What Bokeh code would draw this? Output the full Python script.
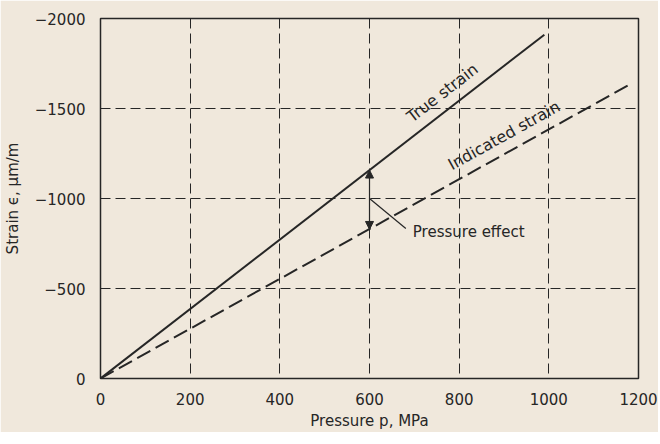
import math
from bokeh.plotting import figure
from bokeh.models import Range1d, FixedTicker, Label, Arrow, NormalHead
from bokeh.embed import file_html
from bokeh.resources import INLINE

# ---- data ----
pressure_true = [0, 990]          # MPa
strain_true = [0, -1910]          # micro-strain
pressure_indicated = [0, 1185]
strain_indicated = [0, -1640]
effect_pressure = [600, 600]
effect_strain = [-828, -1158]
leader_pressure = [600, 681]
leader_strain = [-1000, -833]

x_ticks = [0, 200, 400, 600, 800, 1000, 1200]
x_tick_labels = ["0", "200", "400", "600", "800", "1000", "1200"]
y_ticks = [0, -500, -1000, -1500, -2000]
y_tick_labels = ["0", "\u2212500", "\u22121000", "\u22121500", "\u22122000"]

# ---- style ----
BG = "#f0e8dc"
INK = "#262626"
FONT = "DejaVu Sans"

FW, FH = 538, 360
p = figure(frame_width=FW, frame_height=FH, output_backend="svg", toolbar_location=None,
           x_range=Range1d(0, 1200), y_range=Range1d(0, -2000),
           min_border_left=94, min_border_right=20, min_border_top=18,
           min_border_bottom=50,
           background_fill_color=BG, border_fill_color=BG,
           outline_line_color=INK, outline_line_width=1.5)

# axes
p.xaxis.ticker = FixedTicker(ticks=x_ticks)
p.yaxis.ticker = FixedTicker(ticks=y_ticks)
p.xaxis.major_label_overrides = {t: l for t, l in zip(x_ticks, x_tick_labels)}
p.yaxis.major_label_overrides = {t: l for t, l in zip(y_ticks, y_tick_labels)}
for ax in (p.xaxis[0], p.yaxis[0]):
    ax.axis_line_color = None
    ax.major_tick_line_color = None
    ax.minor_tick_line_color = None
    ax.major_label_text_font = FONT
    ax.major_label_text_font_size = "15px"
    ax.major_label_text_color = INK
    ax.axis_label_text_font = FONT
    ax.axis_label_text_font_size = "15px"
    ax.axis_label_text_font_style = "normal"
    ax.axis_label_text_color = INK
p.xaxis.major_label_standoff = 8
p.yaxis.major_label_standoff = 9
p.xaxis.axis_label = "Pressure p, MPa"
p.yaxis.axis_label = "Strain \u03f5, \u03bcm/m"
p.xaxis.axis_label_standoff = 4
p.yaxis.axis_label_standoff = 10

# grid
for g in (p.xgrid[0], p.ygrid[0]):
    g.grid_line_color = INK
    g.grid_line_width = 1
    g.grid_line_dash = "10 5"
p.xgrid.ticker = FixedTicker(ticks=x_ticks)
p.ygrid.ticker = FixedTicker(ticks=y_ticks)

# curves
p.line(pressure_true, strain_true, line_color=INK, line_width=2)
p.line(pressure_indicated, strain_indicated, line_color=INK, line_width=2,
       line_dash="15 6")

# pressure effect arrow and leader
head = dict(size=8, fill_color=INK, line_color=INK)
p.add_layout(Arrow(x_start=effect_pressure[0], y_start=effect_strain[0],
                   x_end=effect_pressure[1], y_end=effect_strain[1],
                   start=NormalHead(**head), end=NormalHead(**head),
                   line_color=INK, line_width=1.2))
p.line(leader_pressure, leader_strain, line_color=INK, line_width=1.2)
p.add_layout(Label(x=leader_pressure[1], y=leader_strain[1], text="Pressure effect",
                   text_align="left", text_baseline="middle", x_offset=7, y_offset=-3,
                   text_font=FONT, text_font_size="15px", text_color=INK))

# rotated curve labels
px_per_x = FW / 1200.0
px_per_y = FH / 2000.0

def curve_label(xs, ys, at, text, d):
    slope = (ys[1] - ys[0]) / (xs[1] - xs[0])
    ang = math.atan(-slope * px_per_y / px_per_x)
    p.add_layout(Label(x=at, y=ys[0] + slope * (at - xs[0]), text=text, angle=ang,
                       text_align="center", text_baseline="bottom",
                       x_offset=-math.sin(ang) * d, y_offset=math.cos(ang) * d,
                       text_font=FONT, text_font_size="16px", text_color=INK))

curve_label(pressure_true, strain_true, 785, "True strain", 7)
curve_label(pressure_indicated, strain_indicated, 918, "Indicated strain", 7)

open("out.html", "w").write(file_html(p, INLINE))
